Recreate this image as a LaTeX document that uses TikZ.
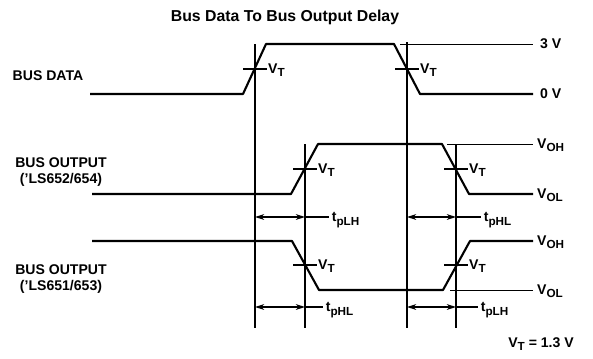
\documentclass[tikz,border=0pt]{standalone}
\usepackage{fontspec}
\setmainfont{Liberation Sans}
\usetikzlibrary{arrows.meta}
\newcommand{\tsub}[2]{#1\raisebox{-0.5ex}{\fontsize{10}{11}\selectfont #2}}

\begin{document}
\begin{tikzpicture}[
  x=0.03cm, y=-0.03cm,
  >=Stealth,
  every node/.style={font=\bfseries\fontsize{12}{14}\selectfont, inner sep=0pt},
  wave/.style={line width=1.8pt, line join=round},
  vline/.style={line width=0.9pt},
  refline/.style={line width=0.8pt},
  dim/.style={<->, line width=0.9pt, >={Stealth[length=8pt,width=5pt]}},
  lbl/.style={anchor=base west}
]
\useasboundingbox (0,0) rectangle (593,358);

\node (title) at (285,17) {\fontsize{13.5}{15}\selectfont Bus Data To Bus Output Delay};

% signal names
\node (nData) at (48,76) {BUS DATA};
\node[align=center] (nOut1) at (61,172) {BUS OUTPUT\\('LS652/654)};
\node[align=center] (nOut2) at (61,279) {BUS OUTPUT\\('LS651/653)};

% waveforms
\draw[wave] (90,94) -- (243,94) -- (266,44) -- (394,44) -- (420,94) -- (533,94);
\draw[wave] (92,194) -- (291,194) -- (318,144) -- (442,144) -- (469,194) -- (533,194);
\draw[wave] (92,241) -- (292,241) -- (319,290) -- (443,290) -- (470,241) -- (533,241);

% reference levels
\draw[refline] (400,44) -- (533,44);
\draw[refline] (447,144) -- (533,144);
\draw[refline] (450,290) -- (533,290);
\node[lbl] (l3v) at (540,48) {3 V};
\node[lbl] (l0v) at (540,98) {0 V};
\node[lbl] (lOH1) at (537,148) {\tsub{V}{OH}};
\node[lbl] (lOL1) at (537,198) {\tsub{V}{OL}};
\node[lbl] (lOH2) at (537,245) {\tsub{V}{OH}};
\node[lbl] (lOL2) at (537,294) {\tsub{V}{OL}};

% threshold verticals
\coordinate (A) at (255,328);
\coordinate (B) at (305,328);
\coordinate (C) at (407,328);
\coordinate (D) at (456,328);
\draw[vline] (255,44) -- (A);
\draw[vline] (407,42) -- (C);
\draw[vline] (305,144) -- (B);
\draw[vline] (456,144) -- (D);

% V_T crossings
\foreach \x/\y [count=\i] in {255/69, 407/69, 305/169, 456/169, 305/265, 456/265} {
  \draw[vline] (\x-12,\y) -- (\x+12,\y);
  \node[lbl] (vt\i) at (\x+13,\y+4) {\tsub{V}{T}};
}

% delays
\coordinate (r1) at (0,217);
\coordinate (r2) at (0,307);
\draw[dim] (A |- r1) -- (B |- r1);
\draw[dim] (C |- r1) -- (D |- r1);
\draw[dim] (A |- r2) -- (B |- r2);
\draw[dim] (C |- r2) -- (D |- r2);
\draw[vline] (B |- r1) -- ++(24,0) node[lbl, xshift=2pt, yshift=-4pt] (t1) {\tsub{t}{pLH}};
\draw[vline] (D |- r1) -- ++(25,0) node[lbl, xshift=2pt, yshift=-4pt] (t2) {\tsub{t}{pHL}};
\draw[vline] (B |- r2) -- ++(18,0) node[lbl, xshift=2pt, yshift=-4pt] (t3) {\tsub{t}{pHL}};
\draw[vline] (D |- r2) -- ++(22,0) node[lbl, xshift=2pt, yshift=-4pt] (t4) {\tsub{t}{pLH}};

\node (vtval) at (541,344) {\tsub{V}{T} = 1.3 V};
\end{tikzpicture}
\end{document}
